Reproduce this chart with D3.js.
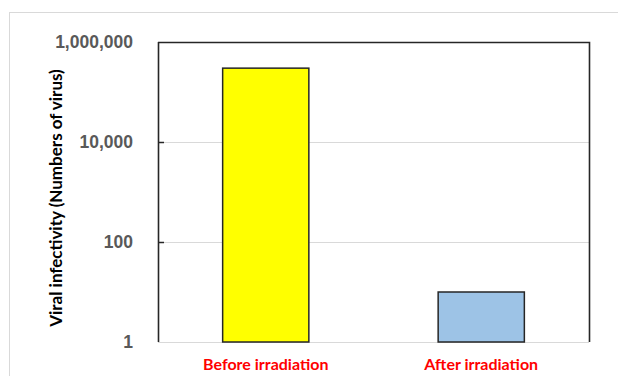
<!DOCTYPE html>
<html>
<head>
<meta charset="utf-8">
<script src="https://cdn.jsdelivr.net/npm/d3@7"></script>
<style>
  body { margin: 0; background: #fff; }
  svg { display: block; font-family: Lato, "Open Sans", sans-serif; }
</style>
</head>
<body>
<svg id="chart"></svg>
<script>
// data
var categories = ["Before irradiation", "After irradiation"];
var values = [300000, 10];
var barColors = ["#ffff00", "#9dc3e6"];
var tickValues = [1, 100, 10000, 1000000];

var width = 618, height = 376;
var margin = {top: 42, right: 29, bottom: 34, left: 158};
var plotW = width - margin.left - margin.right;
var plotH = height - margin.top - margin.bottom;

var svg = d3.select("#chart")
  .attr("width", width)
  .attr("height", height);

// outer chart frame
svg.append("rect")
  .attr("x", 9.5).attr("y", 12.5)
  .attr("width", 640).attr("height", 400)
  .attr("fill", "none")
  .attr("stroke", "#d9d9d9");

var g = svg.append("g")
  .attr("transform", "translate(" + margin.left + "," + margin.top + ")");

var x = d3.scaleBand()
  .domain(categories)
  .range([0, plotW])
  .paddingInner(0.6)
  .paddingOuter(0.3);

var y = d3.scaleLog()
  .domain([1, 1000000])
  .range([plotH, 0]);

// gridlines
g.selectAll(".grid")
  .data(tickValues)
  .enter()
  .append("line")
  .attr("x1", 0).attr("x2", plotW)
  .attr("y1", function(d){ return Math.round(y(d)) + 0.5; })
  .attr("y2", function(d){ return Math.round(y(d)) + 0.5; })
  .attr("stroke", "#d9d9d9")
  .attr("stroke-width", 1.2);

// bars
g.selectAll(".bar")
  .data(values)
  .enter()
  .append("rect")
  .attr("x", function(d, i){ return x(categories[i]); })
  .attr("width", x.bandwidth())
  .attr("y", function(d){ return y(d); })
  .attr("height", function(d){ return plotH - y(d); })
  .attr("fill", function(d, i){ return barColors[i]; })
  .attr("stroke", "#262626")
  .attr("stroke-width", 1.5);

// top + right border of plot area
g.append("path")
  .attr("d", "M0,0.5H" + (plotW + 0.5) + "V" + plotH)
  .attr("fill", "none")
  .attr("stroke", "#262626")
  .attr("stroke-width", 1.6);

// y axis, ticks point inward
var yAxis = d3.axisLeft(y)
  .tickValues(tickValues)
  .tickSize(-6)
  .tickFormat(d3.format(","));

var yAxisG = g.append("g").call(yAxis);
yAxisG.select(".domain")
  .attr("d", "M0.5,0V" + plotH)
  .attr("stroke", "#262626")
  .attr("stroke-width", 1.6);
yAxisG.selectAll(".tick line")
  .attr("stroke", "#262626")
  .attr("stroke-width", 1.5);
yAxisG.selectAll(".tick text")
  .attr("x", -25)
  .attr("fill", "#595959")
  .attr("font-size", 17.5)
  .attr("font-weight", "bold");
yAxisG.selectAll(".tick line").filter(function(d){ return d == 1 || d == 1000000; }).remove();

// x labels
g.selectAll(".xlabel")
  .data(categories)
  .enter()
  .append("text")
  .attr("x", function(d){ return x(d) + x.bandwidth() / 2; })
  .attr("y", plotH + 28)
  .attr("text-anchor", "middle")
  .attr("fill", "#ff0000")
  .attr("font-size", 16)
  .attr("font-weight", "bold")
  .text(function(d){ return d; });

// y title
svg.append("text")
  .attr("transform", "translate(62," + 198 + ") rotate(-90)")
  .attr("text-anchor", "middle")
  .attr("fill", "#000")
  .attr("font-size", 17)
  .attr("font-weight", "bold")
  .text("Viral infectivity (Numbers of virus)");
</script>
</body>
</html>
